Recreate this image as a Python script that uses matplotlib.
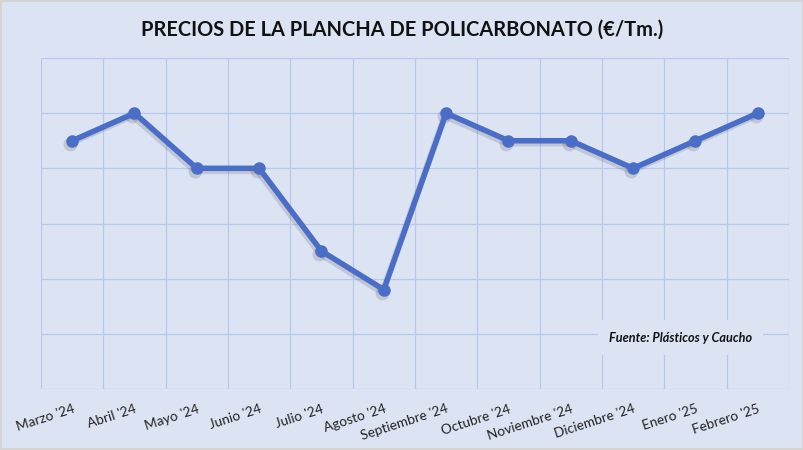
import numpy as np
import matplotlib
matplotlib.use("Agg")
import matplotlib.pyplot as plt
from matplotlib.transforms import offset_copy

# data (y axis has no labels, values read relative to the grid)
meses = ["Marzo '24", "Abril '24", "Mayo '24", "Junio '24", "Julio '24", "Agosto '24",
         "Septiembre '24", "Octubre '24", "Noviembre '24", "Diciembre '24", "Enero '25", "Febrero '25"]
precios = [4.5, 5.0, 4.0, 4.0, 2.5, 1.8, 5.0, 4.5, 4.5, 4.0, 4.5, 5.0]

bg = "#dce3f3"
grid_c = "#b7c8ec"
line_c = "#4a6dc8"

plt.rcParams['font.family'] = ['Lato', 'DejaVu Sans']

fig = plt.figure(figsize=(8.04, 4.5), dpi=100)
fig.patch.set_facecolor(bg)
fig.patch.set_edgecolor("#d4d4d4")
fig.patch.set_linewidth(1.5)

ax = fig.add_axes([41 / 804, 1 - 389 / 450, 748 / 804, 331 / 450])
ax.set_facecolor(bg)

x = np.arange(len(meses))
# soft shadow under the line
shadow_tr = offset_copy(ax.transData, fig=fig, x=-2, y=-3, units="dots")
ax.plot(x, precios, color="#444444", alpha=0.18, lw=4, marker="o", ms=10, mew=0,
        transform=shadow_tr, zorder=2, solid_joinstyle="round")
ax.plot(x, precios, color=line_c, lw=4, marker="o", ms=9, mew=0, zorder=3,
        solid_capstyle="round", solid_joinstyle="round")

ax.set_xlim(-0.5, len(meses) - 0.5)
ax.set_ylim(0, 6)
ax.set_yticks(np.arange(0, 7, 1))
ax.set_xticks(np.arange(-0.5, len(meses), 1))
ax.set_xticklabels([])
ax.grid(True, color=grid_c, lw=0.9)
ax.set_axisbelow(True)
ax.tick_params(length=0, labelleft=False)
for s in ax.spines.values():
    s.set_visible(False)

ax.set_xticks(x, minor=True)
ax.set_xticklabels(meses, minor=True, rotation=18, ha="right", rotation_mode="anchor",
                   fontsize=9.8, color="#222222")
ax.tick_params(axis="x", which="minor", length=0, pad=10)

fig.text(0.5, 0.935, "PRECIOS DE LA PLANCHA DE POLICARBONATO (€/Tm.)", ha="center", va="center",
         fontsize=14.4, fontweight="bold", color="#111111")

ax.text(0.855, 0.155, "Fuente: Plásticos y Caucho", transform=ax.transAxes, ha="center", va="center",
        fontsize=9.1, fontweight="bold", fontstyle="italic", color="#111111", zorder=4,
        bbox=dict(boxstyle="square,pad=0.9", fc=bg, ec="none"))

fig.savefig("out.png", dpi=100, facecolor=bg, edgecolor=fig.get_edgecolor())
